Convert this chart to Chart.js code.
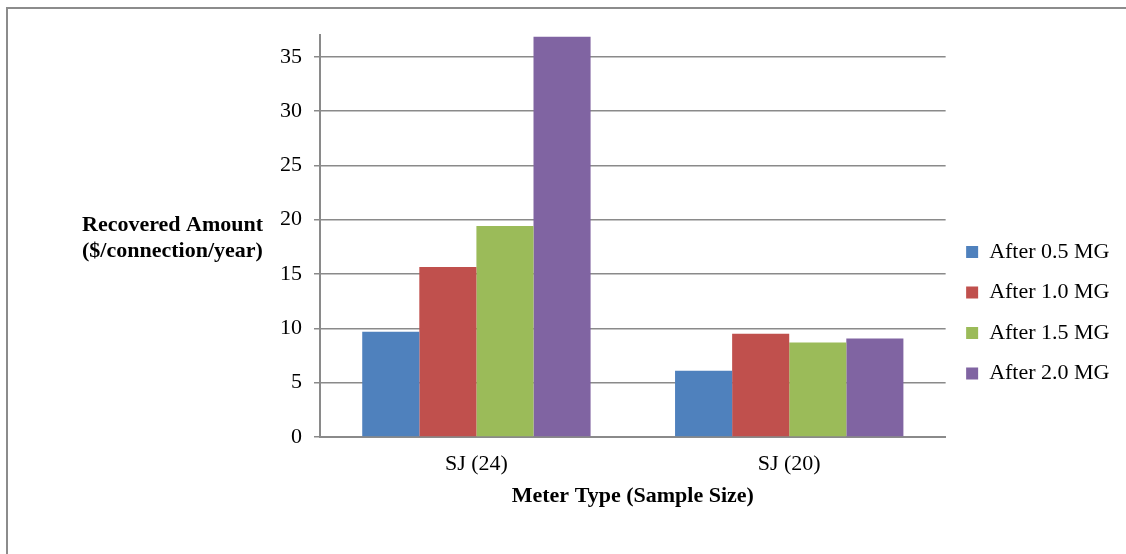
<!DOCTYPE html>
<html>
<head>
<meta charset="utf-8">
<script src="https://cdn.jsdelivr.net/npm/chart.js@4/dist/chart.umd.min.js"></script>
<style>
    body { margin: 0; background: #fff; }
    #frame {
        position: absolute; left: 6px; top: 7px; width: 1200px; height: 600px;
        border: 2px solid #8c8c8c; box-sizing: border-box;
    }
    #wrap { position: absolute; left: 0; top: 0; width: 1126px; height: 554px; }
</style>
</head>
<body>
<div id="frame"></div>
<div id="wrap"><canvas id="chart"></canvas></div>
<script>
const categories = ["SJ (24)", "SJ (20)"];
const seriesNames = ["After 0.5 MG", "After 1.0 MG", "After 1.5 MG", "After 2.0 MG"];
const after05 = [9.68, 6.1];
const after10 = [15.65, 9.5];
const after15 = [19.43, 8.7];
const after20 = [36.84, 9.07];
const seriesColors = ["#4f81bd", "#c0504d", "#9bbb59", "#8064a2"];
const yTicks = [0, 5, 10, 15, 20, 25, 30, 35];
const yTitle = ["Recovered Amount", "($/connection/year)"];
const xTitle = "Meter Type (Sample Size)";

const serif = "'Liberation Serif', 'Times New Roman', serif";
const gridColor = "#8a8a8a";

// y title sits horizontally to the left of the axis
const yTitlePlugin = {
    id: "yTitle",
    afterDraw(chart) {
        const ctx = chart.ctx;
        ctx.save();
        ctx.font = "bold 22px " + serif;
        ctx.fillStyle = "#000";
        ctx.textAlign = "left";
        ctx.textBaseline = "middle";
        ctx.fillText(yTitle[0], 82, 225);
        ctx.fillText(yTitle[1], 82, 251);
        ctx.restore();
    }
};

// move legend down next to the middle of the plot
const legendShift = {
    id: "legendShift",
    afterLayout(chart) {
        const lg = chart.legend;
        lg.top += 187.5;
        lg.bottom += 187.5;
        lg.left += 2;
        lg.right += 2;
    }
};

const datasets = [after05, after10, after15, after20].map((values, i) => ({
    label: seriesNames[i],
    data: values,
    backgroundColor: seriesColors[i],
    borderWidth: 0
}));

new Chart(document.getElementById("chart"), {
    type: "bar",
    data: { labels: categories, datasets: datasets },
    options: {
        responsive: true,
        maintainAspectRatio: false,
        animation: false,
        layout: { padding: { top: 35, left: 278, right: 8.5, bottom: 44 } },
        datasets: {
            bar: { barPercentage: 1, categoryPercentage: 0.73 }
        },
        plugins: {
            legend: {
                position: "right",
                align: "start",
                labels: {
                    boxWidth: 12,
                    boxHeight: 12,
                    padding: 18.5,
                    color: "#000",
                    font: { family: serif, size: 22 }
                }
            },
            tooltip: { enabled: false }
        },
        scales: {
            x: {
                afterFit(scale) {
                    scale.height = 73;
                },
                grid: { display: false, drawTicks: false },
                border: { color: gridColor, width: 2 },
                ticks: {
                    color: "#000",
                    padding: 14,
                    font: { family: serif, size: 22 }
                },
                title: {
                    display: true,
                    text: xTitle,
                    color: "#000",
                    padding: { top: 7, bottom: 0 },
                    font: { family: serif, size: 22, weight: "bold" }
                }
            },
            y: {
                min: 0,
                max: 37,
                afterBuildTicks(scale) {
                    scale.ticks = yTicks.map(v => ({ value: v }));
                },
                afterFit(scale) {
                    scale.width = 42;
                },
                grid: { color: gridColor, lineWidth: 1.5, tickLength: 6 },
                border: { color: gridColor, width: 2 },
                ticks: {
                    color: "#000",
                    padding: 12,
                    font: { family: serif, size: 22 }
                }
            }
        }
    },
    plugins: [yTitlePlugin, legendShift]
});
</script>
</body>
</html>
